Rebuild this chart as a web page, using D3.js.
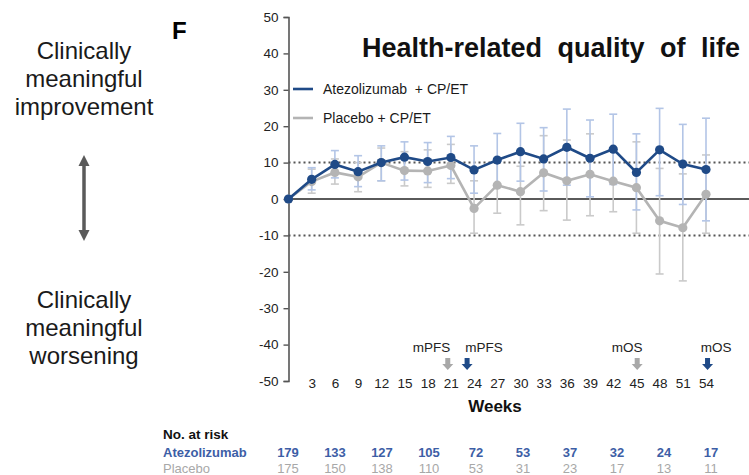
<!DOCTYPE html>
<html><head><meta charset="utf-8">
<script src="https://cdn.jsdelivr.net/npm/d3@7"></script>
<style>
body{margin:0;background:#fff;}
svg{display:block;font-family:"Liberation Sans",Arial,sans-serif;}
</style></head>
<body><svg id="c" width="749" height="475"></svg>
<script>
const weeks = [0,3,6,9,12,15,18,21,24,27,30,33,36,39,42,45,48,51,54];
const atezoMean  = [0,5.4,9.5,7.5,10,11.5,10.3,11.4,8.0,10.7,13,11,14.2,11.2,13.7,7.3,13.5,9.6,8.1];
const atezoLower = [null,2.5,5.8,3.4,5,5.2,4.5,5.6,1.6,3.5,4.9,2.2,3.8,0.6,4,-3,0.9,-1.5,-6];
const atezoUpper = [null,8.6,13.3,11.9,14.6,15.7,15.5,17.2,14.6,18,20.8,19.6,24.7,21.7,23.3,17.9,24.9,20.5,22.2];
const placeboMean  = [0,4.8,7.3,6.1,10,7.8,7.7,9.2,-2.6,3.8,2,7.2,5,6.8,4.9,3.1,-6,-7.9,1.3];
const placeboLower = [null,1.6,4.1,2,5,3.6,3.2,4.3,-9.4,-3.9,-7.1,-3.2,-5.8,-4.6,-3.5,-9.4,-20.6,-22.5,-9.4];
const placeboUpper = [null,8.2,11,10,14,13,13.5,15,5,11,9,17.4,16.2,17.9,14,15.7,8.4,6.9,12.1];
const yTicks = [-50,-40,-30,-20,-10,0,10,20,30,40,50];
const xTicks = [3,6,9,12,15,18,21,24,27,30,33,36,39,42,45,48,51,54];
const seriesNames = ["Atezolizumab  + CP/ET","Placebo + CP/ET"];
const riskRows = ["Atezolizumab","Placebo"];
const atezoRisk = [179,133,127,105,72,53,37,32,24,17];
const placeboRisk = [175,150,138,110,53,31,23,17,13,11];
const markerLabels = ["mPFS","mPFS","mOS","mOS"];
const markerArrowWeeks = [20.6,23.1,45.1,54.2];
const markerLabelWeeks = [18.5,25.3,43.8,55.3];
const markerGroup = ["placebo","atezo","placebo","atezo"];

const C = {navy:"#1f4a87", lblue:"#b3c5e6", gray:"#b4b4b4", lgray:"#cacaca", axis:"#555", tblue:"#3d5ea6", tgray:"#a8a8a8"};
const svg = d3.select("#c");
const x = d3.scaleLinear().domain([0,54]).range([288.5,706]);
const y = d3.scaleLinear().domain([-50,50]).range([381,17]);

// left side labels
const lt = svg.append("g").attr("font-size",24).attr("fill","#1a1a1a").attr("text-anchor","middle");
[["Clinically",51],["meaningful",79],["improvement",107],["Clinically",300],["meaningful",328],["worsening",356]].forEach(([t,yy])=>{
  lt.append("text").attr("x",84).attr("y",yy).attr("dy","0.35em").text(t);
});
// double arrow
svg.append("line").attr("x1",84).attr("x2",84).attr("y1",164).attr("y2",232).attr("stroke","#5a5a5a").attr("stroke-width",3.5);
svg.append("path").attr("d","M84,155 L78.5,166 L89.5,166 Z").attr("fill","#5a5a5a");
svg.append("path").attr("d","M84,241 L78.5,230 L89.5,230 Z").attr("fill","#5a5a5a");

svg.append("text").attr("x",172).attr("y",39).attr("font-size",24).attr("font-weight","bold").text("F");
svg.append("text").attr("x",362).attr("y",57).attr("font-size",27).attr("font-weight","bold").attr("word-spacing","8px").attr("fill","#111").text("Health-related quality of life");

// reference lines
const W = 749;
svg.append("line").attr("x1",x(0)).attr("x2",W).attr("y1",y(0)).attr("y2",y(0)).attr("stroke","#5a5a5a").attr("stroke-width",2.2);
[10,-10].forEach(v=>{
  svg.append("line").attr("x1",x(0)).attr("x2",W).attr("y1",y(v)).attr("y2",y(v)).attr("stroke","#555").attr("stroke-width",2).attr("stroke-dasharray","2,3");
});

// y axis
const ya = svg.append("g").attr("transform",`translate(${x(0)},0)`).call(d3.axisLeft(y).tickValues(yTicks).tickFormat(d=>String(d)).tickSize(5).tickPadding(5));
ya.select(".domain").attr("stroke",C.axis).attr("stroke-width",1.6);
ya.selectAll(".tick line").attr("stroke",C.axis).attr("stroke-width",1.4);
ya.selectAll("text").attr("font-size",13.5).attr("fill","#222").attr("font-family","Liberation Sans,Arial,sans-serif");

// x tick labels
const xa = svg.append("g").attr("transform",`translate(0,${y(-50)})`).call(d3.axisBottom(x).tickValues(xTicks).tickFormat(d=>String(d)).tickSize(0).tickPadding(0));
xa.select(".domain").remove();
xa.selectAll("text").attr("dy","0.55em").attr("font-size",13.5).attr("fill","#222").attr("font-family","Liberation Sans,Arial,sans-serif");
svg.append("text").attr("x",495).attr("y",412).attr("font-size",17).attr("font-weight","bold").attr("text-anchor","middle").attr("fill","#111").text("Weeks");

// error bars
function errBars(lo,hi,color){
  const g = svg.append("g").attr("stroke",color).attr("stroke-width",1.6).attr("fill","none");
  weeks.forEach((w,i)=>{
    if(lo[i]==null) return;
    const cx = x(w);
    g.append("line").attr("x1",cx).attr("x2",cx).attr("y1",y(lo[i])).attr("y2",y(hi[i]));
    [lo[i],hi[i]].forEach(v=>g.append("line").attr("x1",cx-4).attr("x2",cx+4).attr("y1",y(v)).attr("y2",y(v)));
  });
}
errBars(placeboLower,placeboUpper,C.lgray);
errBars(atezoLower,atezoUpper,C.lblue);

function series(vals,color){
  const line = d3.line().x((d,i)=>x(weeks[i])).y(d=>y(d));
  svg.append("path").datum(vals).attr("d",line).attr("fill","none").attr("stroke",color).attr("stroke-width",2.6);
  svg.append("g").selectAll("circle").data(vals).join("circle").attr("cx",(d,i)=>x(weeks[i])).attr("cy",d=>y(d)).attr("r",4.6).attr("fill",color);
}
series(placeboMean,C.gray);
series(atezoMean,C.navy);

// legend
const lg = svg.append("g");
[[C.navy,89],[C.gray,118]].forEach(([col,yy],i)=>{
  lg.append("line").attr("x1",293).attr("x2",313).attr("y1",yy).attr("y2",yy).attr("stroke",col).attr("stroke-width",2.6);
  lg.append("text").attr("x",323).attr("y",yy).attr("dy","0.35em").attr("font-size",14).attr("fill","#1a1a1a").style("white-space","pre").text(seriesNames[i]);
});

// median markers
markerLabels.forEach((t,i)=>{
  svg.append("text").attr("x",x(markerLabelWeeks[i])).attr("y",347).attr("dy","0.35em").attr("text-anchor","middle").attr("font-size",13.5).attr("fill","#222").text(t);
  const ax = x(markerArrowWeeks[i]);
  const col = markerGroup[i]==="atezo"?C.navy:"#a8a8a8";
  svg.append("path").attr("d",`M${ax-2.5},358 L${ax+2.5},358 L${ax+2.5},364 L${ax+5.5},364 L${ax},370 L${ax-5.5},364 L${ax-2.5},364 Z`).attr("fill",col);
});

// number at risk table
svg.append("text").attr("x",163).attr("y",434).attr("dy","0.35em").attr("font-size",13.5).attr("font-weight","bold").attr("fill","#111").text("No. at risk");
const rx = d3.scalePoint().domain(d3.range(atezoRisk.length)).range([288,711]);
[[atezoRisk,C.tblue,452,"bold"],[placeboRisk,C.tgray,468,"normal"]].forEach(([arr,col,yy,fw],r)=>{
  svg.append("text").attr("x",163).attr("y",yy).attr("dy","0.35em").attr("font-size",13).attr("font-weight",fw).attr("fill",col).text(riskRows[r]);
  svg.append("g").selectAll("text").data(arr).join("text").attr("x",(d,i)=>rx(i)).attr("y",yy).attr("dy","0.35em").attr("text-anchor","middle").attr("font-size",13).attr("font-weight",fw).attr("fill",col).text(d=>d);
});
</script></body></html>
